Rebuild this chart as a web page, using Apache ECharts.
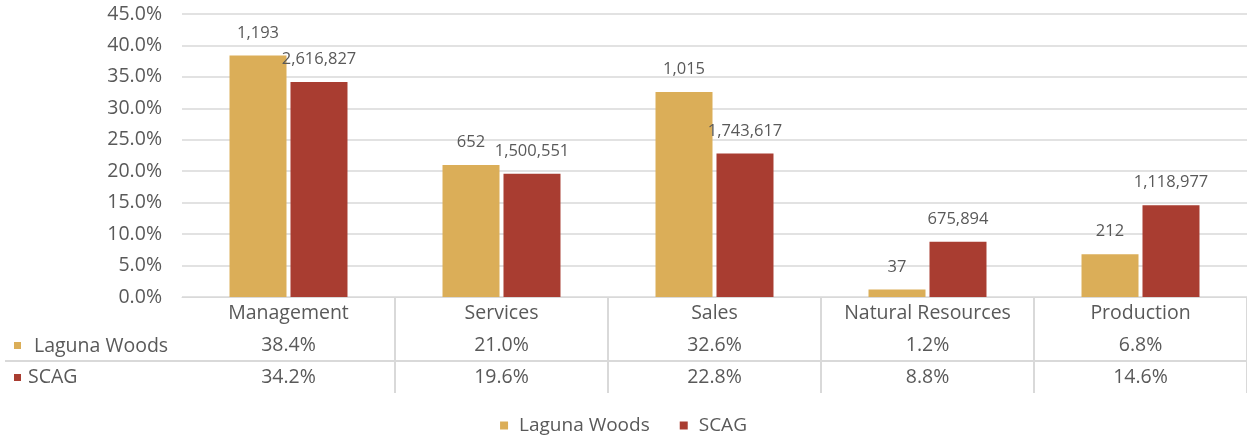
<!DOCTYPE html>
<html>
<head>
<meta charset="utf-8">
<title>Occupation</title>
<script src="https://cdn.jsdelivr.net/npm/echarts@6/dist/echarts.min.js"></script>
<style>
  html, body { margin: 0; padding: 0; background: #fff; }
  #main { width: 1247px; height: 439px; }
</style>
</head>
<body>
<div id="main"></div>
<script>
// data
var categories = ['Management', 'Services', 'Sales', 'Natural Resources', 'Production'];
var lagunaPct = [38.4, 21.0, 32.6, 1.2, 6.8];
var scagPct = [34.2, 19.6, 22.8, 8.8, 14.6];
var lagunaCount = [1193, 652, 1015, 37, 212];
var scagCount = [2616827, 1500551, 1743617, 675894, 1118977];

var GOLD = '#DBAE58';
var RED = '#A93D31';
var TXT = '#595959';
var LINE = '#D9D9D9';
var FONT = '"Open Sans", "Liberation Sans", sans-serif';

var gridLeft = 182, gridTop = 14, gridBottom = 142;
var axisY = 439 - gridBottom;

var chart = echarts.init(document.getElementById('main'));

var option = {
  animation: false,
  textStyle: { fontFamily: FONT, color: TXT },
  color: [GOLD, RED],
  grid: { left: gridLeft, right: 0, top: gridTop, bottom: gridBottom, containLabel: false },
  legend: {
    bottom: -1,
    left: 'center',
    icon: 'rect',
    itemWidth: 8,
    itemHeight: 8,
    itemGap: 30,
    textStyle: { fontSize: 19, color: TXT, fontFamily: FONT, padding: [0, 0, 0, 6] },
    data: ['Laguna Woods', 'SCAG']
  },
  xAxis: {
    type: 'category',
    data: categories,
    axisLine: { lineStyle: { color: LINE, width: 1 } },
    axisTick: {
      show: true,
      length: 96,
      interval: function (i) { return i > 0; },
      lineStyle: { color: LINE, width: 2 }
    },
    axisLabel: {
      margin: 0,
      interval: 0,
      formatter: function (v, i) {
        return '{c|' + v + '}\n{v|' + lagunaPct[i].toFixed(1) + '%}\n{v|' + scagPct[i].toFixed(1) + '%}';
      },
      rich: {
        c: { fontSize: 19.5, lineHeight: 32, color: TXT, fontFamily: FONT },
        v: { fontSize: 19.5, lineHeight: 32, color: TXT, fontFamily: FONT }
      }
    }
  },
  yAxis: {
    type: 'value',
    min: 0,
    max: 45,
    interval: 5,
    axisLine: { show: false },
    axisTick: { show: false },
    axisLabel: {
      margin: 20,
      fontSize: 19.5,
      color: TXT,
      formatter: function (v) { return v.toFixed(1) + '%'; }
    },
    splitLine: { lineStyle: { color: LINE, width: 1.5 } }
  },
  series: [
    {
      name: 'Laguna Woods',
      type: 'bar',
      data: lagunaPct,
      barWidth: 57,
      barGap: '7%',
      itemStyle: { color: GOLD },
      label: {
        show: true,
        position: 'top',
        distance: 14,
        fontSize: 16.5,
        color: TXT,
        formatter: function (p) { return lagunaCount[p.dataIndex].toLocaleString('en-US'); }
      }
    },
    {
      name: 'SCAG',
      type: 'bar',
      data: scagPct,
      barWidth: 57,
      barGap: '7%',
      itemStyle: { color: RED },
      label: {
        show: true,
        position: 'top',
        distance: 14,
        fontSize: 16.5,
        color: TXT,
        formatter: function (p) { return scagCount[p.dataIndex].toLocaleString('en-US'); }
      }
    }
  ],
  graphic: [
    // divider between the two table rows
    { type: 'line', shape: { x1: 5, y1: axisY + 64, x2: 1247, y2: axisY + 64 }, style: { stroke: LINE, lineWidth: 2 } },
    // row labels
    { type: 'rect', shape: { x: 14, y: axisY + 45, width: 7, height: 7 }, style: { fill: GOLD } },
    { type: 'text', left: 34, top: axisY + 39, style: { text: 'Laguna Woods', fontSize: 19.5, fill: TXT, fontFamily: FONT } },
    { type: 'rect', shape: { x: 14, y: axisY + 77, width: 7, height: 7 }, style: { fill: RED } },
    { type: 'text', left: 28, top: axisY + 70, style: { text: 'SCAG', fontSize: 19.5, fill: TXT, fontFamily: FONT } }
  ]
};

chart.setOption(option);
</script>
</body>
</html>
